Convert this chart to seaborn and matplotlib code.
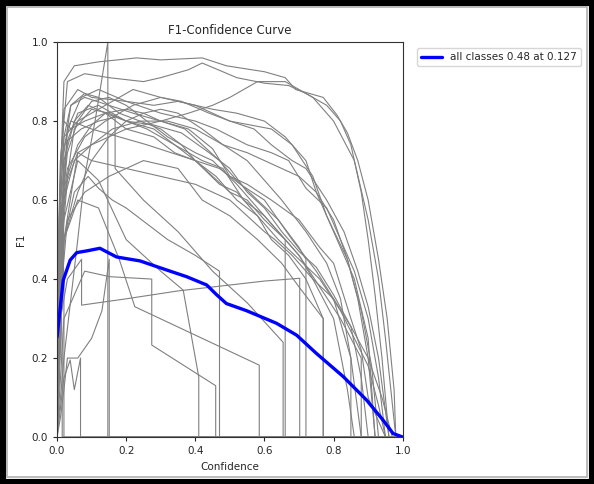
import matplotlib
matplotlib.use("Agg")
import matplotlib.pyplot as plt
from matplotlib.patches import Rectangle
import seaborn as sns
import pandas as pd

# ---- blue aggregate curve ----
all_conf = [0.0, 0.018, 0.038, 0.057, 0.09, 0.124, 0.172, 0.24, 0.317, 0.375, 0.433,
            0.462, 0.49, 0.548, 0.635, 0.693, 0.75, 0.828, 0.895, 0.943, 0.972, 1.0]
all_f1 = [0.253, 0.397, 0.448, 0.467, 0.472, 0.478, 0.456, 0.446, 0.423, 0.406, 0.385,
          0.36, 0.338, 0.32, 0.288, 0.258, 0.212, 0.153, 0.094, 0.043, 0.009, 0.0]
all_label = "all classes 0.48 at 0.127"

# ---- per-class curves (grey) ----
class_conf = [
    [0, 0.005, 0.02, 0.05, 0.12, 0.23, 0.3, 0.42, 0.49, 0.6, 0.66, 0.69, 0.77, 0.81, 0.84, 0.87, 0.9, 0.93, 0.955, 0.975, 0.98, 1.0],
    [0, 0.01, 0.03, 0.08, 0.15, 0.25, 0.3, 0.38, 0.42, 0.52, 0.6, 0.67, 0.72, 0.78, 0.82, 0.85, 0.88, 0.9, 0.92, 0.94, 0.96, 1.0],
    [0, 0.01, 0.02, 0.06, 0.1, 0.2, 0.28, 0.35, 0.45, 0.52, 0.6, 0.66, 0.72, 0.75, 0.8, 0.84, 0.87, 0.9, 0.92, 1.0],
    [0, 0.01, 0.03, 0.07, 0.12, 0.2, 0.3, 0.4, 0.46, 0.55, 0.62, 0.67, 0.72, 0.78, 0.82, 0.86, 0.9, 0.93, 0.95, 1.0],
    [0, 0.02, 0.05, 0.1, 0.15, 0.2, 0.28, 0.36, 0.44, 0.5, 0.55, 0.6, 0.65, 0.7, 0.75, 0.8, 0.85, 0.88, 0.9, 1.0],
    [0, 0.02, 0.04, 0.08, 0.15, 0.22, 0.3, 0.38, 0.45, 0.5, 0.55, 0.62, 0.7, 0.76, 0.8, 0.85, 0.88, 0.9, 0.95, 1.0],
    [0, 0.02, 0.06, 0.1, 0.15, 0.2, 0.25, 0.3, 0.35, 0.42, 0.48, 0.55, 0.6, 0.65, 0.72, 0.78, 0.82, 0.85, 0.88, 1.0],
    [0, 0.01, 0.03, 0.06, 0.1, 0.15, 0.2, 0.26, 0.32, 0.4, 0.45, 0.52, 0.58, 0.64, 0.7, 0.74, 0.8, 0.84, 0.86, 1.0],
    [0, 0.01, 0.02, 0.05, 0.09, 0.14, 0.2, 0.28, 0.34, 0.4, 0.46, 0.52, 0.58, 0.62, 0.67, 0.72, 0.77, 0.77, 1.0],
    [0, 0.01, 0.03, 0.06, 0.1, 0.14, 0.2, 0.25, 0.3, 0.37, 0.42, 0.47, 0.52, 0.58, 0.64, 0.7, 0.72, 0.72, 1.0],
    [0, 0.01, 0.02, 0.04, 0.08, 0.12, 0.18, 0.24, 0.3, 0.36, 0.4, 0.45, 0.5, 0.55, 0.6, 0.66, 0.66, 1.0],
    [0, 0.02, 0.04, 0.06, 0.08, 0.11, 0.147, 0.147, 1.0],
    [0, 0.01, 0.02, 0.03, 0.06, 0.1, 0.13, 0.151, 0.151, 1.0],
    [0, 0.02, 0.038, 0.05, 0.068, 0.068, 1.0],
    [0, 0.01, 0.03, 0.071, 0.071, 0.2, 0.35, 0.5, 0.6, 0.702, 0.702, 1.0],
    [0, 0.02, 0.08, 0.153, 0.274, 0.274, 0.459, 0.459, 1.0],
    [0, 0.02, 0.06, 0.12, 0.18, 0.225, 0.585, 0.585, 1.0],
    [0, 0.02, 0.06, 0.12, 0.2, 0.3, 0.365, 0.41, 0.41, 1.0],
    [0, 0.01, 0.03, 0.07, 0.12, 0.168, 0.168, 0.25, 0.35, 0.45, 0.55, 0.654, 0.654, 1.0],
    [0, 0.01, 0.04, 0.1, 0.18, 0.26, 0.33, 0.4, 0.47, 0.52, 0.58, 0.64, 0.7, 0.76, 0.82, 0.86, 0.9, 0.93, 0.95, 1.0],
    [0, 0.01, 0.03, 0.08, 0.14, 0.22, 0.3, 0.36, 0.44, 0.5, 0.56, 0.62, 0.68, 0.74, 0.78, 0.84, 0.88, 0.91, 0.93, 1.0],
    [0, 0.01, 0.02, 0.05, 0.1, 0.16, 0.24, 0.32, 0.4, 0.48, 0.55, 0.6, 0.65, 0.7, 0.75, 0.8, 0.86, 0.9, 0.92, 1.0],
    [0, 0.01, 0.03, 0.06, 0.1, 0.2, 0.3, 0.4, 0.45, 0.5, 0.55, 0.6, 0.63, 0.68, 0.74, 0.8, 0.85, 0.9, 0.94, 0.97, 1.0],
    [0, 0.01, 0.02, 0.04, 0.08, 0.14, 0.2, 0.26, 0.34, 0.42, 0.48, 0.54, 0.6, 0.64, 0.7, 0.76, 0.82, 0.88, 0.88, 1.0],
    [0, 0.005, 0.01, 0.02, 0.06, 0.14, 0.22, 0.3, 0.4, 0.5, 0.57, 0.62, 0.68, 0.72, 0.78, 0.83, 0.87, 0.9, 0.93, 0.96, 1.0],
    [0, 0.01, 0.02, 0.05, 0.09, 0.12, 0.16, 0.2, 0.26, 0.32, 0.4, 0.47, 0.47, 1.0],
    [0, 0.003, 0.006, 0.01, 0.015, 0.015, 1.0],
    [0, 0.005, 0.01, 0.02, 0.02, 1.0],
    [0, 0.01, 0.03, 0.08, 0.15, 0.25, 0.35, 0.42, 0.5, 0.58, 0.65, 0.7, 0.77, 0.77, 1.0],
    [0, 0.01, 0.03, 0.06, 0.12, 0.2, 0.28, 0.34, 0.4, 0.47, 0.53, 0.6, 0.68, 0.75, 0.8, 0.85, 0.85, 1.0],
    [0, 0.02, 0.06, 0.1, 0.2, 0.3, 0.38, 0.45, 0.5, 0.58, 0.66, 0.7, 0.74, 0.8, 0.86, 0.9, 0.93, 0.95, 0.98, 1.0],
]
class_f1 = [
    [0, 0.55, 0.9, 0.94, 0.95, 0.96, 0.955, 0.96, 0.94, 0.925, 0.91, 0.88, 0.86, 0.815, 0.77, 0.7, 0.6, 0.45, 0.3, 0.12, 0, 0],
    [0, 0.7, 0.9, 0.92, 0.91, 0.9, 0.91, 0.93, 0.947, 0.91, 0.896, 0.89, 0.87, 0.84, 0.8, 0.74, 0.62, 0.5, 0.36, 0.2, 0, 0],
    [0, 0.65, 0.83, 0.88, 0.86, 0.85, 0.84, 0.85, 0.83, 0.82, 0.8, 0.76, 0.7, 0.62, 0.55, 0.45, 0.35, 0.2, 0, 0],
    [0, 0.5, 0.78, 0.86, 0.88, 0.85, 0.82, 0.8, 0.78, 0.74, 0.72, 0.7, 0.63, 0.58, 0.5, 0.42, 0.3, 0.15, 0, 0],
    [0, 0.6, 0.78, 0.83, 0.82, 0.8, 0.79, 0.77, 0.72, 0.68, 0.62, 0.58, 0.52, 0.47, 0.43, 0.36, 0.28, 0.15, 0, 0],
    [0, 0.72, 0.84, 0.86, 0.84, 0.82, 0.8, 0.78, 0.73, 0.66, 0.64, 0.6, 0.55, 0.48, 0.44, 0.3, 0.22, 0.1, 0, 0],
    [0, 0.5, 0.62, 0.7, 0.76, 0.8, 0.82, 0.83, 0.82, 0.78, 0.74, 0.7, 0.65, 0.6, 0.52, 0.44, 0.35, 0.2, 0, 0],
    [0, 0.55, 0.72, 0.8, 0.85, 0.86, 0.84, 0.8, 0.76, 0.72, 0.7, 0.64, 0.58, 0.52, 0.46, 0.4, 0.3, 0.12, 0, 0],
    [0, 0.45, 0.7, 0.8, 0.84, 0.82, 0.78, 0.76, 0.72, 0.7, 0.66, 0.6, 0.56, 0.5, 0.46, 0.4, 0.3, 0, 0],
    [0, 0.5, 0.66, 0.74, 0.79, 0.82, 0.83, 0.82, 0.8, 0.78, 0.74, 0.7, 0.65, 0.6, 0.55, 0.48, 0.45, 0, 0],
    [0, 0.6, 0.76, 0.84, 0.87, 0.86, 0.82, 0.8, 0.78, 0.74, 0.7, 0.66, 0.62, 0.6, 0.55, 0.5, 0, 0],
    [0, 0.2, 0.35, 0.5, 0.66, 0.8, 1.0, 0, 0],
    [0, 0.05, 0.12, 0.2, 0.2, 0.25, 0.32, 0.45, 0, 0],
    [0, 0.15, 0.195, 0.12, 0.2, 0, 0],
    [0, 0.3, 0.4, 0.45, 0.334, 0.35, 0.37, 0.385, 0.395, 0.402, 0, 0],
    [0, 0.3, 0.42, 0.406, 0.4, 0.233, 0.13, 0, 0],
    [0, 0.5, 0.6, 0.58, 0.45, 0.33, 0.182, 0, 0],
    [0, 0.55, 0.7, 0.65, 0.5, 0.42, 0.372, 0.152, 0, 0],
    [0, 0.6, 0.75, 0.78, 0.8, 0.81, 0.68, 0.6, 0.52, 0.42, 0.34, 0.24, 0, 0],
    [0, 0.7, 0.8, 0.78, 0.76, 0.74, 0.72, 0.7, 0.64, 0.62, 0.56, 0.5, 0.45, 0.4, 0.32, 0.25, 0.18, 0.08, 0, 0],
    [0, 0.55, 0.68, 0.76, 0.8, 0.84, 0.86, 0.85, 0.82, 0.8, 0.79, 0.78, 0.74, 0.66, 0.56, 0.45, 0.32, 0.18, 0, 0],
    [0, 0.4, 0.6, 0.7, 0.74, 0.78, 0.8, 0.8, 0.78, 0.74, 0.72, 0.7, 0.68, 0.66, 0.62, 0.52, 0.4, 0.25, 0, 0],
    [0, 0.45, 0.65, 0.72, 0.7, 0.68, 0.66, 0.64, 0.62, 0.6, 0.56, 0.52, 0.5, 0.46, 0.4, 0.35, 0.28, 0.2, 0.1, 0, 0],
    [0, 0.7, 0.8, 0.78, 0.8, 0.82, 0.8, 0.78, 0.74, 0.7, 0.68, 0.6, 0.56, 0.52, 0.46, 0.38, 0.3, 0.2, 0, 0],
    [0, 0.3, 0.6, 0.76, 0.8, 0.84, 0.88, 0.86, 0.84, 0.8, 0.78, 0.74, 0.7, 0.68, 0.6, 0.52, 0.42, 0.33, 0.2, 0, 0],
    [0, 0.3, 0.5, 0.62, 0.66, 0.63, 0.6, 0.58, 0.54, 0.5, 0.46, 0.42, 0, 0],
    [0, 0.3, 0.5, 0.45, 0.2, 0, 0],
    [0, 0.5, 0.65, 0.4, 0, 0],
    [0, 0.35, 0.55, 0.62, 0.66, 0.7, 0.68, 0.6, 0.56, 0.5, 0.44, 0.38, 0.3, 0, 0],
    [0, 0.5, 0.75, 0.82, 0.84, 0.8, 0.78, 0.74, 0.7, 0.68, 0.64, 0.6, 0.5, 0.42, 0.35, 0.2, 0, 0],
    [0, 0.5, 0.72, 0.74, 0.78, 0.8, 0.82, 0.84, 0.86, 0.9, 0.9, 0.88, 0.86, 0.8, 0.7, 0.55, 0.4, 0.25, 0, 0],
]

x_ticks = [0.0, 0.2, 0.4, 0.6, 0.8, 1.0]
y_ticks = [0.0, 0.2, 0.4, 0.6, 0.8, 1.0]

rows = []
for k, (cs, fs) in enumerate(zip(class_conf, class_f1)):
    for i, (c, f) in enumerate(zip(cs, fs)):
        rows.append({"cls": k, "order": i, "conf": c, "f1": f})
df = pd.DataFrame(rows)
df_all = pd.DataFrame({"conf": all_conf, "f1": all_f1})

sns.set_style("ticks")
plt.rcParams["font.family"] = ["DejaVu Sans"]

fig = plt.figure(figsize=(5.94, 4.84), dpi=100)
ax = fig.add_axes([0.096, 0.097, 0.582, 0.816])

sns.lineplot(data=df, x="conf", y="f1", units="cls", estimator=None, sort=False,
             color="grey", linewidth=0.8, ax=ax, legend=False)
sns.lineplot(data=df_all, x="conf", y="f1", sort=False, color="blue", linewidth=2.4,
             label=all_label, ax=ax)

ax.set_xlim(0, 1)
ax.set_ylim(0, 1)
ax.set_xticks(x_ticks)
ax.set_yticks(y_ticks)
ax.tick_params(labelsize=7.5, length=3, width=0.8)
ax.set_xlabel("Confidence", fontsize=7.5)
ax.set_ylabel("F1", fontsize=7.5)
ax.set_title("F1-Confidence Curve", fontsize=8.5)
for s in ax.spines.values():
    s.set_linewidth(0.8)
    s.set_color("#333333")

leg = ax.legend(loc="upper left", bbox_to_anchor=(1.04, 0.985), fontsize=7.5,
                frameon=True, borderaxespad=0.0)
leg.get_frame().set_edgecolor("#cccccc")

# screenshot frame
fig.patches.append(Rectangle((0, 0), 1, 1, transform=fig.transFigure, fill=False,
                             edgecolor="black", linewidth=8, zorder=10))
fig.patches.append(Rectangle((0.012, 0.015), 0.976, 0.970, transform=fig.transFigure,
                             fill=False, edgecolor="#b0b0b0", linewidth=1.2, zorder=10))

fig.savefig("out.png", dpi=100)
